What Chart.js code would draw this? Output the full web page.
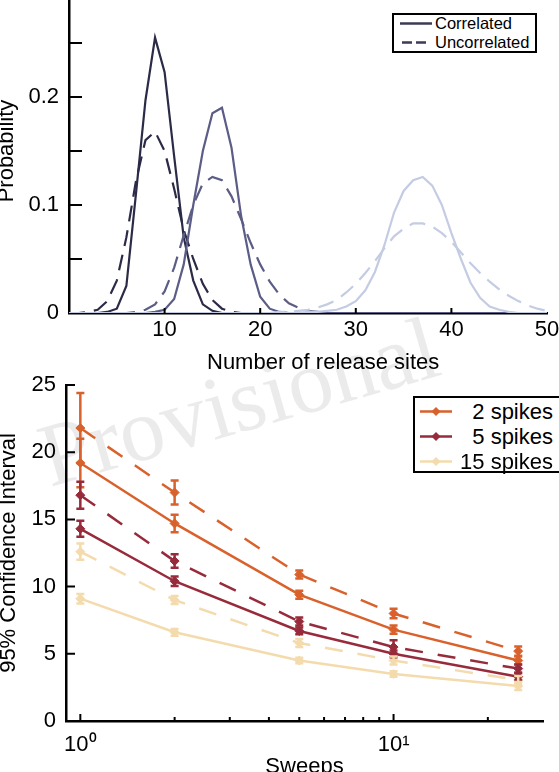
<!DOCTYPE html>
<html>
<head>
<meta charset="utf-8">
<script src="https://cdn.jsdelivr.net/npm/chart.js@4.4.1/dist/chart.umd.min.js"></script>
<style>
html, body { margin: 0; padding: 0; background: #fff; }
body { width: 559px; height: 772px; overflow: hidden; position: relative; font-family: 'Liberation Sans', Arial, sans-serif; }
canvas { position: absolute; }
#topChart { left: -6px; top: -11px; }
#bottomChart { left: -4px; top: 370px; }
.watermark { position: absolute; left: 50px; top: 412px; font: 90px/1 'Liberation Serif', serif; color: #ebebeb; transform-origin: 0 75px; transform: rotate(-16deg); white-space: nowrap; }
.axis-title { position: absolute; font-size: 22px; line-height: 22px; white-space: nowrap; color: #000; }
.legend { position: absolute; border: 2px solid #000; background: #fff; }
.legend .row { position: absolute; white-space: nowrap; color: #000; }
.legend svg { position: absolute; top: 0; }
</style>
</head>
<body>
<div class="watermark">Provisional</div>
<canvas id="topChart" width="570" height="381"></canvas>
<canvas id="bottomChart" width="567" height="410"></canvas>
<div class="axis-title" style="left:207px;top:351px;">Number of release sites</div>
<div class="legend" id="legendTop" style="left:392px;top:13px;width:141px;height:36px;"></div>
<div class="legend" id="legendBottom" style="left:413px;top:396px;width:156px;height:73px;"></div>
<script>
// ---- top panel: distribution of release sites ----
const releaseSites = [
  0, 1, 2, 3, 4, 5, 6, 7, 8, 9,
  10, 11, 12, 13, 14, 15, 16, 17, 18, 19,
  20, 21, 22, 23, 24, 25, 26, 27, 28, 29,
  30, 31, 32, 33, 34, 35, 36, 37, 38, 39,
  40, 41, 42, 43, 44, 45, 46, 47, 48, 49, 50
];
const corrDark = [
  0, 0, 0, 0, 0.001, 0.004, 0.025, 0.11, 0.197, 0.255,
  0.223, 0.145, 0.07, 0.03, 0.008, 0.002, 0, 0, 0, 0,
  0, 0, 0, 0, 0, 0, 0, 0, 0, 0,
  0, 0, 0, 0, 0, 0, 0, 0, 0, 0,
  0, 0, 0, 0, 0, 0, 0, 0, 0, 0, 0
];
const uncorrDark = [
  0, 0, 0.001, 0.003, 0.011, 0.03, 0.07, 0.122, 0.16, 0.168,
  0.15, 0.115, 0.077, 0.05, 0.027, 0.012, 0.004, 0.001, 0, 0,
  0, 0, 0, 0, 0, 0, 0, 0, 0, 0,
  0, 0, 0, 0, 0, 0, 0, 0, 0, 0,
  0, 0, 0, 0, 0, 0, 0, 0, 0, 0, 0
];
const corrMid = [
  0, 0, 0, 0, 0, 0, 0, 0, 0, 0.001,
  0.003, 0.013, 0.045, 0.1, 0.15, 0.185, 0.19, 0.153, 0.09, 0.045,
  0.015, 0.004, 0.001, 0, 0, 0, 0, 0, 0, 0,
  0, 0, 0, 0, 0, 0, 0, 0, 0, 0,
  0, 0, 0, 0, 0, 0, 0, 0, 0, 0, 0
];
const uncorrMid = [
  0, 0, 0, 0, 0, 0, 0, 0.001, 0.003, 0.008,
  0.02, 0.042, 0.072, 0.1, 0.12, 0.126, 0.123, 0.108, 0.087, 0.065,
  0.045, 0.029, 0.017, 0.009, 0.005, 0.002, 0.001, 0, 0, 0,
  0, 0, 0, 0, 0, 0, 0, 0, 0, 0,
  0, 0, 0, 0, 0, 0, 0, 0, 0, 0, 0
];
const corrLight = [
  0, 0, 0, 0, 0, 0, 0, 0, 0, 0,
  0, 0, 0, 0, 0, 0, 0, 0, 0, 0,
  0, 0, 0, 0, 0, 0.001, 0.001, 0.002, 0.003, 0.006,
  0.011, 0.021, 0.038, 0.063, 0.093, 0.113, 0.123, 0.126, 0.118, 0.1,
  0.074, 0.05, 0.028, 0.014, 0.006, 0.003, 0.001, 0, 0, 0, 0
];
const uncorrLight = [
  0, 0, 0, 0, 0, 0, 0, 0, 0, 0,
  0, 0, 0, 0, 0, 0, 0, 0, 0, 0,
  0, 0, 0.001, 0.001, 0.002, 0.003, 0.005, 0.008, 0.012, 0.019,
  0.027, 0.037, 0.048, 0.06, 0.071, 0.078, 0.083, 0.083, 0.08, 0.074,
  0.066, 0.056, 0.046, 0.037, 0.029, 0.022, 0.016, 0.011, 0.007, 0.004, 0.002
];
const distColors = ['#2b2b47', '#5c5d86', '#c4cce4'];
const topLegendLabels = ['Correlated', 'Uncorrelated'];

// ---- bottom panel: 95% CI vs sweeps ----
const sweeps = [1, 2, 5, 10, 25];
const ci2Corr = [19.2, 14.7, 9.4, 6.8, 4.5];
const ci2CorrErr = [1.8, 0.65, 0.3, 0.3, 0.3];
const ci2Uncorr = [21.8, 17.0, 10.9, 8.0, 5.2];
const ci2UncorrErr = [2.6, 0.9, 0.3, 0.35, 0.35];
const ci5Corr = [14.3, 10.4, 6.7, 5.0, 3.3];
const ci5CorrErr = [0.6, 0.35, 0.25, 0.25, 0.25];
const ci5Uncorr = [16.8, 11.9, 7.4, 5.5, 3.9];
const ci5UncorrErr = [1.0, 0.5, 0.3, 0.5, 0.3];
const ci15Corr = [9.1, 6.6, 4.5, 3.5, 2.6];
const ci15CorrErr = [0.35, 0.25, 0.2, 0.2, 0.3];
const ci15Uncorr = [12.6, 9.0, 5.8, 4.5, 3.05];
const ci15UncorrErr = [0.6, 0.3, 0.3, 0.3, 0.3];
const spikeLabels = ['2 spikes', '5 spikes', '15 spikes'];
const spikeColors = ['#d9612b', '#972b3b', '#f4dbad'];
const sweepTicks = [1, 2, 3, 4, 5, 6, 7, 8, 9, 10, 20];
const sweepTickLabels = ['10\u2070', '', '', '', '', '', '', '', '', '10\u00b9', ''];

const FONT = "'Liberation Sans', Arial, sans-serif";
Chart.defaults.font.family = FONT;
Chart.defaults.color = '#000';

// MATLAB style tick marks pointing into the plot
const inwardTicks = {
    id: 'inwardTicks',
    afterDraw(chart, args, opts) {
        const { ctx, chartArea: a } = chart;
        const xs = chart.scales.x, ys = chart.scales.y;
        ctx.save();
        ctx.strokeStyle = '#000';
        ctx.lineWidth = 2;
        ctx.beginPath();
        xs.ticks.forEach(t => {
            if (t.value <= xs.min || t.value >= xs.max) return;
            const px = xs.getPixelForValue(t.value);
            const len = opts.xMajor && opts.xMajor.includes(t.value) ? opts.xMajorLen : opts.xLen;
            ctx.moveTo(px, a.bottom);
            ctx.lineTo(px, a.bottom - len);
        });
        ys.ticks.forEach(t => {
            if (t.value <= ys.min + 1e-9 || t.value > ys.max + 1e-9) return;
            if (opts.skipYMax && t.value >= ys.max - 1e-9) return;
            const py = ys.getPixelForValue(t.value);
            ctx.moveTo(a.left, py);
            ctx.lineTo(a.left + opts.yLen, py);
        });
        ctx.stroke();
        ctx.restore();
    }
};

const errorBars = {
    id: 'errorBars',
    afterDatasetsDraw(chart) {
        const ctx = chart.ctx;
        const xs = chart.scales.x, ys = chart.scales.y;
        chart.data.datasets.forEach(ds => {
            if (!ds.errors) return;
            ctx.save();
            ctx.setLineDash([]);
            ctx.strokeStyle = ds.borderColor;
            ctx.lineWidth = 2.5;
            ctx.beginPath();
            ds.data.forEach((pt, i) => {
                const e = ds.errors[i];
                const px = xs.getPixelForValue(pt.x);
                const top = ys.getPixelForValue(pt.y + e);
                const bot = ys.getPixelForValue(pt.y - e);
                ctx.moveTo(px, top); ctx.lineTo(px, bot);
                ctx.moveTo(px - 4, top); ctx.lineTo(px + 4, top);
                ctx.moveTo(px - 4, bot); ctx.lineTo(px + 4, bot);
            });
            ctx.stroke();
            ctx.restore();
        });
    }
};

function distDataset(label, values, color, dashed, order) {
    return {
        label,
        data: releaseSites.map((x, i) => ({ x, y: values[i] })),
        borderColor: color,
        borderWidth: 2.2,
        borderDash: dashed ? [16, 9] : [],
        pointRadius: 0,
        tension: 0,
        fill: false,
        order
    };
}

new Chart(document.getElementById('topChart'), {
    type: 'line',
    data: {
        datasets: [
            distDataset('Correlated', corrDark, distColors[0], false, 3),
            distDataset('Uncorrelated', uncorrDark, distColors[0], true, 3),
            distDataset('Correlated', corrMid, distColors[1], false, 2),
            distDataset('Uncorrelated', uncorrMid, distColors[1], true, 2),
            distDataset('Correlated', corrLight, distColors[2], false, 1),
            distDataset('Uncorrelated', uncorrLight, distColors[2], true, 1)
        ]
    },
    options: {
        responsive: false,
        animation: false,
        devicePixelRatio: 1,
        layout: { padding: { top: 0, right: 17, bottom: 0, left: 0 } },
        plugins: {
            legend: { display: false },
            tooltip: { enabled: false },
            inwardTicks: { xLen: 5, yLen: 13, skipYMax: true }
        },
        scales: {
            x: {
                type: 'linear', min: 0, max: 50,
                grid: { display: false, drawTicks: false },
                border: { display: true, color: '#000', width: 2.5 },
                ticks: {
                    stepSize: 10, padding: 4, maxRotation: 0,
                    font: { size: 22 },
                    callback: v => v === 0 ? '' : String(v)
                },
                afterFit(s) { s.height = 57; s.paddingLeft = 0; s.paddingRight = 0; }
            },
            y: {
                min: 0, max: 0.3,
                grid: { display: false, drawTicks: false },
                border: { display: true, color: '#000', width: 2.5 },
                ticks: {
                    stepSize: 0.05, padding: 10,
                    font: { size: 22 },
                    callback: v => {
                        const k = Math.round(v * 20);
                        if (k % 2 !== 0 || k >= 6) return '';
                        return k === 0 ? '0' : (k / 20).toFixed(1);
                    }
                },
                title: { display: true, text: 'Probability', font: { size: 22 }, padding: 0 },
                afterFit(s) { s.width = 75; s.paddingTop = 0; s.paddingBottom = 0; }
            }
        }
    },
    plugins: [inwardTicks]
});

function ciDataset(label, values, errs, color, dashed) {
    return {
        label,
        data: sweeps.map((x, i) => ({ x, y: values[i] })),
        errors: errs,
        borderColor: color,
        backgroundColor: color,
        borderWidth: 2.5,
        borderDash: dashed ? [18, 15] : [],
        pointStyle: 'rectRot',
        pointRadius: 4.5,
        pointBorderWidth: 1,
        pointBorderColor: color,
        pointBackgroundColor: color,
        tension: 0,
        fill: false
    };
}

new Chart(document.getElementById('bottomChart'), {
    type: 'line',
    data: {
        datasets: [
            ciDataset(spikeLabels[0], ci2Corr, ci2CorrErr, spikeColors[0], false),
            ciDataset(spikeLabels[0], ci2Uncorr, ci2UncorrErr, spikeColors[0], true),
            ciDataset(spikeLabels[1], ci5Corr, ci5CorrErr, spikeColors[1], false),
            ciDataset(spikeLabels[1], ci5Uncorr, ci5UncorrErr, spikeColors[1], true),
            ciDataset(spikeLabels[2], ci15Corr, ci15CorrErr, spikeColors[2], false),
            ciDataset(spikeLabels[2], ci15Uncorr, ci15UncorrErr, spikeColors[2], true)
        ]
    },
    options: {
        responsive: false,
        animation: false,
        devicePixelRatio: 1,
        layout: { padding: { top: 15, right: 20, bottom: 0, left: 0 } },
        plugins: {
            legend: { display: false },
            tooltip: { enabled: false },
            inwardTicks: { xLen: 4, xMajorLen: 7, xMajor: [1, 10], yLen: 9 }
        },
        scales: {
            x: {
                type: 'logarithmic', min: 0.9, max: 30,
                grid: { display: false, drawTicks: false },
                border: { display: true, color: '#000', width: 2.5 },
                afterBuildTicks(s) { s.ticks = sweepTicks.map(v => ({ value: v })); },
                ticks: {
                    autoSkip: false, padding: 11, maxRotation: 0,
                    font: { size: 22 },
                    callback: v => {
                        const i = sweepTicks.indexOf(v);
                        return i >= 0 ? sweepTickLabels[i] : '';
                    }
                },
                title: { display: true, text: 'Sweeps', font: { size: 22 }, padding: 0 },
                afterFit(s) { s.height = 59; s.paddingLeft = 0; s.paddingRight = 0; }
            },
            y: {
                min: 0, max: 25,
                grid: { display: false, drawTicks: false },
                border: { display: true, color: '#000', width: 2.5 },
                ticks: { stepSize: 5, padding: 10, font: { size: 22 } },
                title: { display: true, text: '95% Confidence Interval', font: { size: 22 }, padding: 0 },
                afterFit(s) { s.width = 70; s.paddingTop = 0; s.paddingBottom = 0; }
            }
        }
    },
    plugins: [errorBars, inwardTicks]
});

// legends (boxed, MATLAB style)
const legendTop = document.getElementById('legendTop');
topLegendLabels.forEach((text, i) => {
    const row = document.createElement('div');
    row.className = 'row';
    row.style.cssText = `left:0;top:${-1 + i * 19}px;width:141px;height:19px;`;
    const line = i === 0
        ? '<line x1="0" y1="9.5" x2="32" y2="9.5" stroke="#3b3b55" stroke-width="2.5"/>'
        : '<line x1="2" y1="9.5" x2="28" y2="9.5" stroke="#3b3b55" stroke-width="2.5" stroke-dasharray="10 4"/>';
    row.innerHTML = `<svg width="32" height="19" style="left:6px">${line}</svg>` +
        `<span style="position:absolute;left:41px;top:0;font-size:16.5px;line-height:19px;">${text}</span>`;
    legendTop.appendChild(row);
});

const legendBottom = document.getElementById('legendBottom');
spikeLabels.forEach((text, i) => {
    const c = spikeColors[i];
    const row = document.createElement('div');
    row.className = 'row';
    row.style.cssText = `left:0;top:${0.5 + i * 25}px;width:138px;height:25px;`;
    row.innerHTML = `<svg width="32" height="25" style="left:5px">` +
        `<line x1="0" y1="12.5" x2="32" y2="12.5" stroke="${c}" stroke-width="2.5"/>` +
        `<polygon points="16,8 20.5,12.5 16,17 11.5,12.5" fill="${c}"/></svg>` +
        `<span style="position:absolute;right:0;top:0;font-size:22px;line-height:25px;">${text}</span>`;
    legendBottom.appendChild(row);
});
</script>
</body>
</html>
